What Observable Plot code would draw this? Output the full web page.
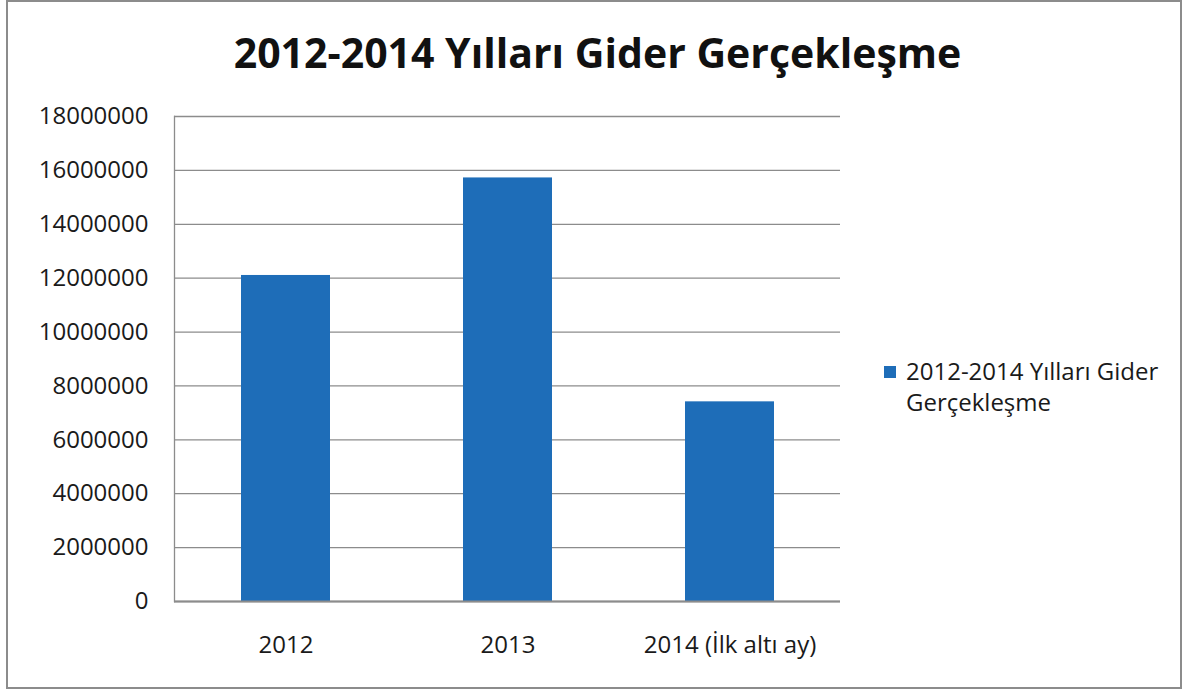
<!DOCTYPE html>
<html>
<head>
<meta charset="utf-8">
<script src="https://cdn.jsdelivr.net/npm/d3@7"></script>
<script src="https://cdn.jsdelivr.net/npm/@observablehq/plot@0.6"></script>
<style>
  html, body { margin: 0; padding: 0; background: #fff; }
  #wrap { position: relative; width: 1183px; height: 690px; overflow: hidden; font-family: "Open Sans", sans-serif; color: #1a1a1a; }
  #border { position: absolute; left: 6px; top: 0px; width: 1176px; height: 689px; border: 2px solid #8c8c8c; box-sizing: border-box; }
  #title { position: absolute; left: 0; width: 1195px; top: 24px; text-align: center; font-weight: 700; font-size: 41px; line-height: normal; color: #111; white-space: nowrap; }
  #chart { position: absolute; left: 0; top: 0; }
  #legend { position: absolute; left: 884px; top: 355px; font-size: 24px; line-height: 31px; color: #1a1a1a; }
  #legend .sw { position: absolute; left: 0; top: 11px; width: 12px; height: 12px; }
  #legend .tx { position: absolute; left: 22px; top: 0; white-space: nowrap; }
</style>
</head>
<body>
<div id="wrap">
  <div id="border"></div>
  <div id="chart"></div>
  <div id="title"></div>
  <div id="legend"><div class="sw"></div><div class="tx"></div></div>
</div>
<script>
const titleText = "2012-2014 Yılları Gider Gerçekleşme";
const seriesName = "2012-2014 Yılları Gider Gerçekleşme";
const categories = ["2012", "2013", "2014 (İlk altı ay)"];
const values = [12100000, 15720000, 7410000];
const yTicks = [0, 2000000, 4000000, 6000000, 8000000, 10000000, 12000000, 14000000, 16000000, 18000000];
const barColor = "#1e6db8";
const gridColor = "#8c8c8c";

const data = categories.map((c, i) => ({category: c, value: values[i]}));

document.getElementById("title").textContent = titleText;
document.querySelector("#legend .sw").style.background = barColor;
document.querySelector("#legend .tx").innerHTML = "2012-2014 Yılları Gider<br>Gerçekleşme";

const chart = Plot.plot({
  width: 1183,
  height: 690,
  marginLeft: 174,
  marginRight: 343,
  marginTop: 116,
  marginBottom: 89,
  style: {fontFamily: "Open Sans", fontSize: "24px", color: "#1a1a1a", background: "transparent", overflow: "visible"},
  x: {type: "band", domain: categories, paddingInner: 0.6, paddingOuter: 0.3, label: null},
  y: {domain: [0, 18000000], label: null},
  marks: [
    Plot.gridY(yTicks, {stroke: gridColor, strokeOpacity: 1, strokeWidth: 1.3}),
    Plot.frame({anchor: "left", stroke: gridColor, strokeWidth: 1.3}),
    Plot.barY(data, {x: "category", y: "value", fill: barColor}),
    Plot.ruleY([0], {stroke: gridColor, strokeWidth: 2}),
    Plot.axisY(yTicks, {tickSize: 0, tickPadding: 26, tickFormat: d3.format("d"), label: null}),
    Plot.axisX({tickSize: 0, tickPadding: 34, label: null})
  ]
});
document.getElementById("chart").appendChild(chart);
</script>
</body>
</html>
